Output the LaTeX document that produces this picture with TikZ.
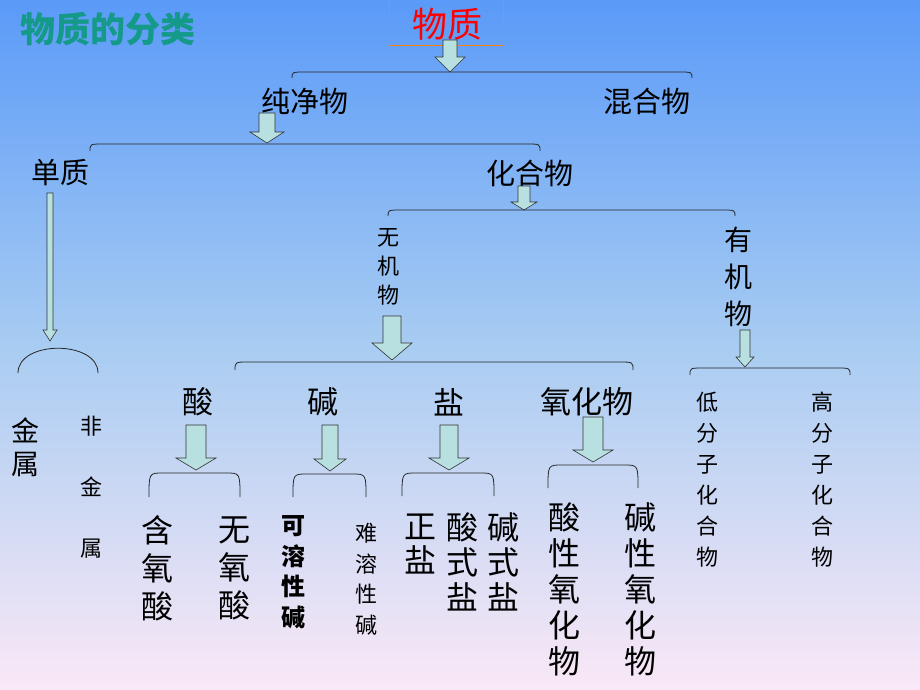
\documentclass[tikz,border=0pt]{standalone}
\usepackage{fontspec}
\setmainfont{Noto Sans CJK SC}
\begin{document}
\begin{tikzpicture}[x=1pt,y=-1pt,
  arr/.style={fill=arrfill,draw=black!80,line width=0.6pt},
  br/.style={draw=black!85,line width=0.8pt},
  lab/.style={font=\fontsize{#1}{#1}\selectfont,inner sep=0pt},
  vt/.style 2 args={align=center,font=\fontsize{#1}{#2}\selectfont,inner sep=0pt}]
\definecolor{arrfill}{HTML}{B8E0E0}
\definecolor{topc}{HTML}{5A9AF8}
\definecolor{midc}{HTML}{A8CCF2}
\definecolor{botc}{HTML}{FAE8F6}
\definecolor{titc}{HTML}{159A8A}
\useasboundingbox (0,0) rectangle (920,690);
\shade[top color=topc,bottom color=botc,middle color=midc] (0,0) rectangle (920,690);
\newcommand\barr[6]{\draw[arr] ({#1-#5/2},#2) -- ({#1+#5/2},#2) -- ({#1+#5/2},#3) -- ({#1+#6/2},#3) -- (#1,#4) -- ({#1-#6/2},#3) -- ({#1-#5/2},#3) -- cycle;}
\newcommand\brk[4]{\draw[br] (#1,#4) .. controls (#1,#3) .. ({#1+14},#3) -- ({#2-14},#3) .. controls (#2,#3) .. (#2,#4);}
% title
\node[inner sep=0pt,text=titc,font=\bfseries\fontsize{35}{35}\selectfont] (title) at (108,29) {物质的分类};
\draw[orange,line width=0.8pt] (389,0) -- (389,45) -- (503,45) -- (503,0);
\node[lab=35,text=red] (wz) at (447,24) {物质};
\barr{450}{40}{57}{72}{14}{30}
\brk{292}{692}{72}{78}
\node[lab=29] (cjw) at (305,101) {纯净物};
\node[lab=29] (hhw) at (647,101) {混合物};
\barr{267}{113}{132}{143}{16}{34}
\brk{90}{540}{144}{151}
\node[lab=29] (dz) at (60,173) {单质};
\node[lab=29] (hhw2) at (530,173) {化合物};
\barr{524}{186}{202}{210}{12}{26}
\brk{388}{735}{210}{216}
\node[vt={22}{29}] (wjw) at (388,267) {无\\机\\物};
\node[vt={28}{37}] (yjw) at (738,277) {有\\机\\物};
% elemental
\barr{50}{193}{330}{341}{6}{14}
\draw[br] (18,373) .. controls (18,340) and (98,340) .. (98,373);
\node[vt={28}{33}] (js) at (25,447) {金\\属};
\node[vt={22}{61}] (fjs) at (91,487) {非\\金\\属};
% inorganic
\barr{392}{316}{343}{360}{18}{40}
\brk{235}{633}{362}{370}
\node[lab=31] (s) at (198,402) {酸};
\node[lab=31] (j) at (323,402) {碱};
\node[lab=31] (y) at (449,402) {盐};
\node[lab=31] (yhw) at (587,402) {氧化物};
\barr{196}{425}{458}{470}{20}{40}
\barr{330}{425}{459}{471}{16}{32}
\barr{449}{425}{458}{470}{18}{40}
\barr{593}{417}{450}{462}{20}{40}
\brk{149}{240}{473}{497}
\brk{293}{366}{474}{497}
\brk{402}{494}{473}{496}
\brk{548}{638}{465}{488}
\node[vt={32}{38}] (hys) at (157,568) {含\\氧\\酸};
\node[vt={32}{38}] (wys) at (234,568) {无\\氧\\酸};
\node[align=center,inner sep=0pt,font=\bfseries\fontsize{24}{30.5}\selectfont] (krx) at (293,572) {可\\溶\\性\\碱};
\node[vt={22}{30.5}] (nrx) at (366,579) {难\\溶\\性\\碱};
\node[vt={32}{34}] (zy) at (420,544) {正\\盐};
\node[vt={32}{35}] (ssy) at (462,562) {酸\\式\\盐};
\node[vt={32}{35}] (jsy) at (503,562) {碱\\式\\盐};
\node[vt={32}{36}] (sx) at (564,589) {酸\\性\\氧\\化\\物};
\node[vt={32}{36}] (jx) at (640,589) {碱\\性\\氧\\化\\物};
% organic
\barr{745}{330}{357}{367}{10}{18}
\brk{690}{850}{368}{375}
\node[vt={22}{31}] (dfz) at (707,480) {低\\分\\子\\化\\合\\物};
\node[vt={22}{31}] (gfz) at (822,480) {高\\分\\子\\化\\合\\物};
\end{tikzpicture}
\end{document}
